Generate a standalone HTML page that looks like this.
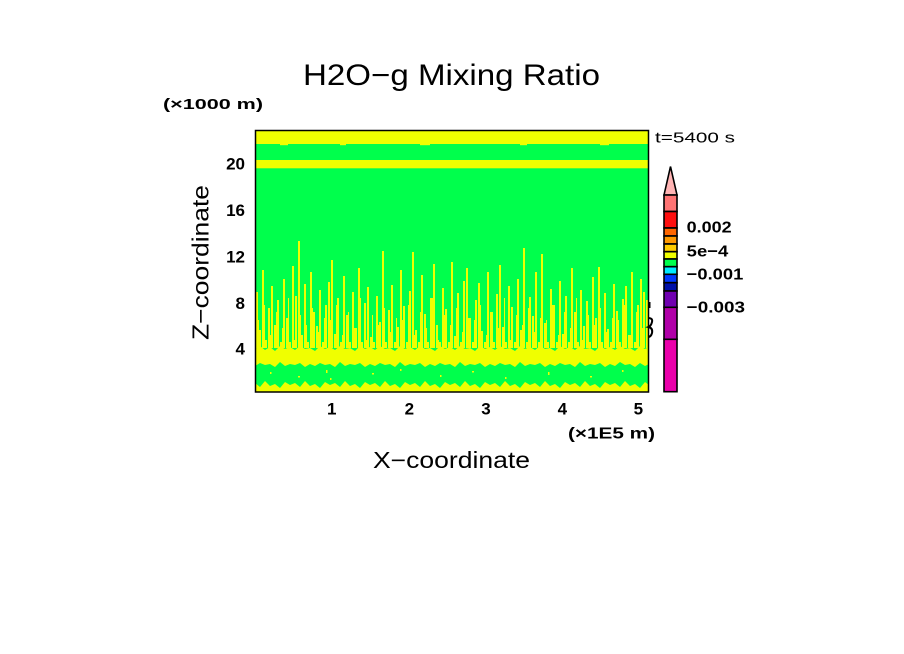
<!DOCTYPE html>
<html><head><meta charset="utf-8"><style>
html,body{margin:0;padding:0;background:#fff;width:904px;height:654px;overflow:hidden}
svg{display:block}
text{font-family:"Liberation Sans",sans-serif;fill:#000}
</style></head><body>
<svg width="904" height="654" viewBox="0 0 904 654" xmlns="http://www.w3.org/2000/svg">
<rect width="904" height="654" fill="#fff"/>
<!-- title -->
<text x="303" y="85" font-size="30" textLength="297" lengthAdjust="spacingAndGlyphs">H2O−g Mixing Ratio</text>
<text x="163" y="109" font-size="15" font-weight="bold" textLength="100" lengthAdjust="spacingAndGlyphs">(×1000 m)</text>
<text x="655" y="142.7" font-size="15" textLength="80" lengthAdjust="spacingAndGlyphs">t=5400 s</text>

<!-- plot field -->
<g>
<rect x="255.5" y="130.5" width="393" height="261.5" fill="#00ff4c"/>
<rect x="255.5" y="130.5" width="393" height="13.5" fill="#f0ff00"/>
<rect x="280" y="144" width="8" height="1.2" fill="#f0ff00"/>
<rect x="340" y="144" width="6" height="1.2" fill="#f0ff00"/>
<rect x="420" y="144" width="10" height="1.2" fill="#f0ff00"/>
<rect x="520" y="144" width="7" height="1.2" fill="#f0ff00"/>
<rect x="600" y="144" width="9" height="1.2" fill="#f0ff00"/>
<rect x="255.5" y="160" width="393" height="8.3" fill="#f0ff00"/>
<path fill="#f0ff00" d="M256 348V292h2V348z M259 348V330h2V348z M262 348V270h2V348z M265 348V340h2V348z M268 348V308h2V348z M271 348V286h2V348z M274 348V325h2V348z M277 348V300h2V348z M280 348V342h2V348z M283 348V279h2V348z
M286 348V318h2V348z M289 348V342h2V348z M292 348V266h2V348z M295 348V296h2V348z M298 348V241h2V348z M301 348V335h2V348z M304 348V284h2V348z M307 348V342h2V348z M310 348V272h2V348z M313 348V312h2V348z
M316 348V326h2V348z M319 348V290h2V348z M322 348V342h2V348z M325 348V305h2V348z M328 348V282h2V348z M331 348V260h2V348z M334 348V334h2V348z M337 348V298h2V348z M340 348V342h2V348z M343 348V276h2V348z
M346 348V315h2V348z M349 348V342h2V348z M352 348V292h2V348z M355 348V328h2V348z M358 348V268h2V348z M361 348V342h2V348z M364 348V303h2V348z M367 348V287h2V348z M370 348V337h2V348z M373 348V342h2V348z
M376 348V296h2V348z M379 348V322h2V348z M382 348V251h2V348z M385 348V342h2V348z M388 348V310h2V348z M391 348V285h2V348z M394 348V342h2V348z M397 348V327h2V348z M400 348V270h2V348z M403 348V306h2V348z
M406 348V342h2V348z M409 348V291h2V348z M412 348V252h2V348z M415 348V330h2V348z M418 348V342h2V348z M421 348V275h2V348z M424 348V314h2V348z M427 348V342h2V348z M430 348V298h2V348z M433 348V264h2V348z
M436 348V325h2V348z M439 348V342h2V348z M442 348V288h2V348z M445 348V309h2V348z M448 348V342h2V348z M451 348V262h2V348z M454 348V336h2V348z M457 348V293h2V348z M460 348V342h2V348z M463 348V281h2V348z
M466 348V268h2V348z M469 348V318h2V348z M472 348V342h2V348z M475 348V300h2V348z M478 348V283h2V348z M481 348V331h2V348z M484 348V342h2V348z M487 348V272h2V348z M490 348V312h2V348z M493 348V342h2V348z
M496 348V294h2V348z M499 348V265h2V348z M502 348V327h2V348z M505 348V342h2V348z M508 348V286h2V348z M511 348V307h2V348z M514 348V342h2V348z M517 348V279h2V348z M520 348V330h2V348z M523 348V248h2V348z
M526 348V342h2V348z M529 348V297h2V348z M532 348V316h2V348z M535 348V272h2V348z M538 348V342h2V348z M541 348V254h2V348z M544 348V323h2V348z M547 348V342h2V348z M550 348V289h2V348z M553 348V305h2V348z
M556 348V342h2V348z M559 348V281h2V348z M562 348V334h2V348z M565 348V296h2V348z M568 348V342h2V348z M571 348V268h2V348z M574 348V312h2V348z M577 348V342h2V348z M580 348V290h2V348z M583 348V326h2V348z
M586 348V301h2V348z M589 348V342h2V348z M592 348V277h2V348z M595 348V318h2V348z M598 348V267h2V348z M601 348V342h2V348z M604 348V293h2V348z M607 348V329h2V348z M610 348V342h2V348z M613 348V284h2V348z
M616 348V311h2V348z M619 348V342h2V348z M622 348V299h2V348z M625 348V286h2V348z M628 348V335h2V348z M631 348V272h2V348z M634 348V342h2V348z M637 348V305h2V348z M640 348V279h2V348z M643 348V292h2V348z
M646 348V300h2V348z"/>
<path fill="#f0ff00" d="M258 348V320h1V348z M264 348V305h1V348z M270 348V335h1V348z M276 348V312h1V348z M282 348V328h1V348z M288 348V298h1V348z M294 348V340h1V348z M300 348V315h1V348z M306 348V325h1V348z M312 348V308h1V348z M318 348V332h1V348z M324 348V318h1V348z
M330 348V320h1V348z M336 348V305h1V348z M342 348V335h1V348z M348 348V312h1V348z M354 348V328h1V348z M360 348V298h1V348z M366 348V340h1V348z M372 348V315h1V348z M378 348V325h1V348z M384 348V308h1V348z M390 348V332h1V348z M396 348V318h1V348z
M402 348V320h1V348z M408 348V305h1V348z M414 348V335h1V348z M420 348V312h1V348z M426 348V328h1V348z M432 348V298h1V348z M438 348V340h1V348z M444 348V315h1V348z M450 348V325h1V348z M456 348V308h1V348z M462 348V332h1V348z M468 348V318h1V348z
M474 348V320h1V348z M480 348V305h1V348z M486 348V335h1V348z M492 348V312h1V348z M498 348V328h1V348z M504 348V298h1V348z M510 348V340h1V348z M516 348V315h1V348z M522 348V325h1V348z M528 348V308h1V348z M534 348V332h1V348z M540 348V318h1V348z
M546 348V320h1V348z M552 348V305h1V348z M558 348V335h1V348z M564 348V312h1V348z M570 348V328h1V348z M576 348V298h1V348z M582 348V340h1V348z M588 348V315h1V348z M594 348V325h1V348z M600 348V308h1V348z M606 348V332h1V348z M612 348V318h1V348z
M618 348V320h1V348z M624 348V305h1V348z M630 348V335h1V348z M636 348V312h1V348z M642 348V328h1V348z"/>
<polygon fill="#f0ff00" points="255,349 260,346 265,350 270,347 275,351 280,346 285,349 290,347 295,350 300,346 305,349 310,348 315,351 320,346 325,349 330,347 335,350 340,346 345,349 350,348 355,351 360,346 365,349 370,347 375,350 380,346 385,349 390,348 395,351 400,346 405,349 410,347 415,350 420,346 425,349 430,348 435,351 440,346 445,349 450,347 455,350 460,346 465,349 470,348 475,351 480,346 485,349 490,347 495,350 500,346 505,349 510,348 515,351 520,346 525,349 530,347 535,350 540,346 545,349 550,348 555,351 560,346 565,349 570,347 575,350 580,346 585,349 590,348 595,351 600,346 605,349 610,347 615,350 620,346 625,349 630,348 635,351 640,346 645,349 649,347 649,364 645,366 640,363 635,367 630,364 625,365 620,362 615,366 610,364 605,367 600,363 595,365 590,364 585,366 580,362 575,367 570,364 565,365 560,363 555,366 550,364 545,367 540,363 535,365 530,364 525,366 520,362 515,367 510,364 505,365 500,363 495,366 490,364 485,367 480,363 475,365 470,364 465,366 460,362 455,367 450,364 445,365 440,363 435,366 430,364 425,367 420,363 415,365 410,364 405,366 400,362 395,367 390,364 385,365 380,363 375,366 370,364 365,367 360,363 355,365 350,364 345,366 340,362 335,367 330,364 325,365 320,363 315,366 310,364 305,367 300,363 295,365 290,364 285,366 280,362 275,367 270,364 265,365 260,363 255,366"/>
<polygon fill="#f0ff00" points="255,383 260,387 265,381 270,386 275,384 280,388 285,382 290,385 295,383 300,387 305,381 310,386 315,384 320,388 325,382 330,385 335,383 340,387 345,381 350,386 355,384 360,388 365,382 370,385 375,383 380,387 385,381 390,386 395,384 400,388 405,382 410,385 415,383 420,387 425,381 430,386 435,384 440,388 445,382 450,385 455,383 460,387 465,381 470,386 475,384 480,388 485,382 490,385 495,383 500,387 505,381 510,386 515,384 520,388 525,382 530,385 535,383 540,387 545,381 550,386 555,384 560,388 565,382 570,385 575,383 580,387 585,381 590,386 595,384 600,388 605,382 610,385 615,383 620,387 625,381 630,386 635,384 640,388 645,382 649,385 649,392 255,392"/>
<g fill="#f0ff00">
<rect x="270" y="372" width="1.5" height="2"/><rect x="298" y="376" width="2" height="1.5"/><rect x="326" y="370" width="1.5" height="3"/>
<rect x="330" y="378" width="1.5" height="2"/><rect x="372" y="373" width="2" height="1.5"/><rect x="400" y="369" width="1.5" height="2"/>
<rect x="440" y="375" width="1.5" height="2"/><rect x="472" y="371" width="2" height="1.5"/><rect x="505" y="377" width="1.5" height="2"/>
<rect x="548" y="372" width="1.5" height="3"/><rect x="590" y="376" width="2" height="1.5"/><rect x="622" y="370" width="1.5" height="2"/>
</g>
</g>
<rect x="255.5" y="130.5" width="393" height="261.5" fill="none" stroke="#000" stroke-width="1.5"/>
<path d="M649.5 302V308 M648 318Q653 318 652 322Q651 326 648.5 327Q653 328 652 333Q651 337 648 337" fill="none" stroke="#000" stroke-width="2"/>

<!-- y axis labels -->
<g font-size="17" font-weight="bold" text-anchor="end">
<text x="245" y="169.5">20</text>
<text x="245" y="216">16</text>
<text x="245" y="262.5">12</text>
<text x="245" y="309">8</text>
<text x="245" y="354.5">4</text>
</g>
<text transform="translate(208.5,340) rotate(-90)" font-size="23" textLength="155" lengthAdjust="spacingAndGlyphs">Z−coordinate</text>

<!-- x axis labels -->
<g font-size="17" font-weight="bold" text-anchor="middle">
<text x="331.7" y="414.5">1</text>
<text x="409.3" y="414.5">2</text>
<text x="486" y="414.5">3</text>
<text x="562.3" y="414.5">4</text>
<text x="638.3" y="414.5">5</text>
</g>
<text x="568" y="438.5" font-size="16" font-weight="bold" textLength="87" lengthAdjust="spacingAndGlyphs">(×1E5 m)</text>
<text x="373" y="468" font-size="23" textLength="157" lengthAdjust="spacingAndGlyphs">X−coordinate</text>

<!-- colorbar -->
<g stroke="#000" stroke-width="1.6">
<polygon points="664,195 670.5,166.5 677,195" fill="#ffb4b4"/>
<rect x="664" y="195" width="13" height="16.5" fill="#ff7474"/>
<rect x="664" y="211.5" width="13" height="16.5" fill="#ff1010"/>
<rect x="664" y="228" width="13" height="8" fill="#ff6600"/>
<rect x="664" y="236" width="13" height="8" fill="#ff9900"/>
<rect x="664" y="244" width="13" height="7.7" fill="#ffcc00"/>
<rect x="664" y="251.7" width="13" height="7.3" fill="#f0ff00"/>
<rect x="664" y="259" width="13" height="7.7" fill="#00ff4c"/>
<rect x="664" y="266.7" width="13" height="7.6" fill="#00eaff"/>
<rect x="664" y="274.3" width="13" height="8.4" fill="#0038ff"/>
<rect x="664" y="282.7" width="13" height="8.3" fill="#0010a8"/>
<rect x="664" y="291" width="13" height="16.3" fill="#7000b0"/>
<rect x="664" y="307.3" width="13" height="32" fill="#b000a8"/>
<rect x="664" y="339.3" width="13" height="52.4" fill="#ea00aa"/>
</g>
<g font-size="16" font-weight="bold">
<text x="686.7" y="232.7" textLength="45" lengthAdjust="spacingAndGlyphs">0.002</text>
<text x="686.7" y="256.7" textLength="41.6" lengthAdjust="spacingAndGlyphs">5e−4</text>
<text x="686.7" y="279.5" textLength="56.6" lengthAdjust="spacingAndGlyphs">−0.001</text>
<text x="686.7" y="312.3" textLength="58.3" lengthAdjust="spacingAndGlyphs">−0.003</text>
</g>
</svg>
</body></html>
